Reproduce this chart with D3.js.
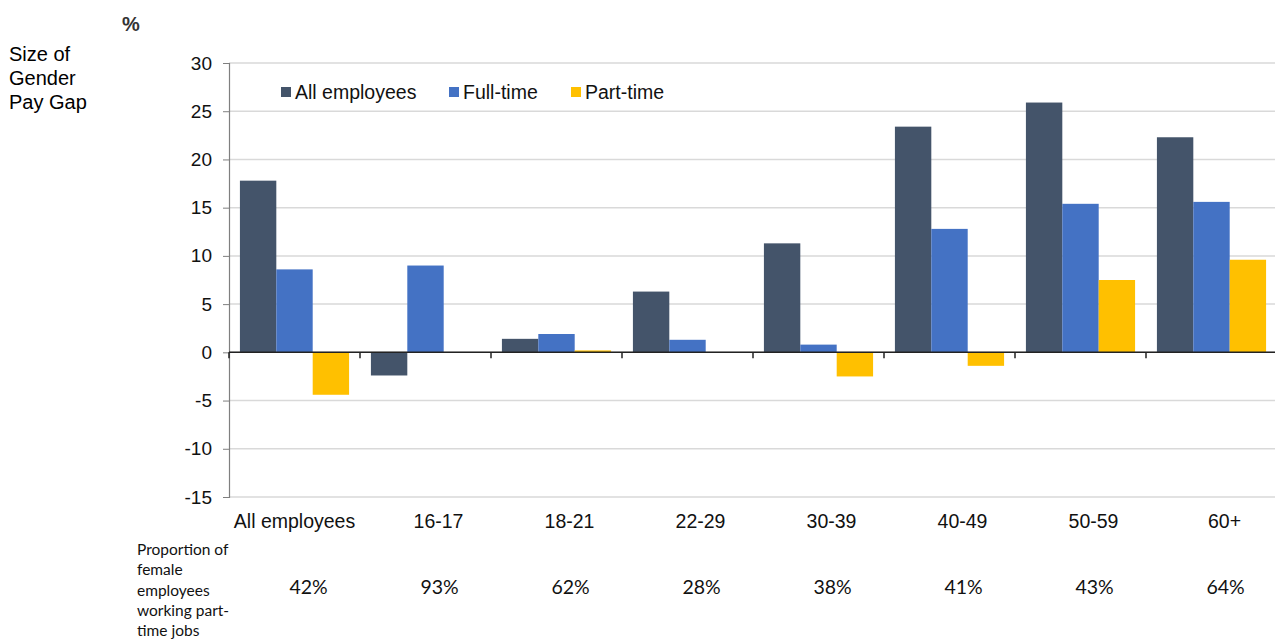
<!DOCTYPE html>
<html>
<head>
<meta charset="utf-8">
<script src="https://cdn.jsdelivr.net/npm/d3@7"></script>
<style>
  body { margin: 0; background: #fff; }
  text { font-family: "Liberation Sans", Arial, sans-serif; fill: #000; }
  .calib { font-family: Lato, "Open Sans", sans-serif; fill: #111; }
</style>
</head>
<body>
<svg id="chart" width="1275" height="642"></svg>
<script>
// categories and values
var categories = [ "All employees", "16-17", "18-21", "22-29", "30-39", "40-49", "50-59", "60+" ];
var seriesNames = [ "All employees", "Full-time", "Part-time" ];
var allEmployees = [ 17.8, -2.4, 1.4, 6.3, 11.3, 23.4, 25.9, 22.3 ];
var fullTime = [ 8.6, 9.0, 1.9, 1.3, 0.8, 12.8, 15.4, 15.6 ];
var partTime = [ -4.4, null, 0.2, null, -2.5, -1.4, 7.5, 9.6 ];
var partTimeShare = [ "42%", "93%", "62%", "28%", "38%", "41%", "43%", "64%" ];
var yTicks = [ 30, 25, 20, 15, 10, 5, 0, -5, -10, -15 ];
var colors = [ "#44546A", "#4472C4", "#FFC000" ];

var series = [ allEmployees, fullTime, partTime ];

var svg = d3.select( "#chart" );
var plotLeft = 229, plotRight = 1277, plotTop = 63, plotBottom = 497;

var x = d3.scaleBand()
	.domain( categories )
	.range( [ plotLeft, plotRight ] )
	.padding( 0 );

var xInner = d3.scaleBand()
	.domain( seriesNames )
	.range( [ 0, x.bandwidth() ] )
	.paddingOuter( 0.3 )
	.paddingInner( 0 );

var y = d3.scaleLinear()
	.domain( [ -15, 30 ] )
	.range( [ plotBottom, plotTop ] );

// gridlines
svg.append( "g" )
	.selectAll( "line" )
	.data( yTicks )
	.enter()
	.append( "line" )
		.attr( "x1", plotLeft )
		.attr( "x2", plotRight )
		.attr( "y1", function( d ) { return y( d ); } )
		.attr( "y2", function( d ) { return y( d ); } )
		.style( "stroke", "#d9d9d9" )
		.style( "stroke-width", 1.5 );

// y axis (plain hyphen for negatives, as in the original)
var yAxis = d3.axisLeft( y )
	.tickValues( yTicks )
	.tickFormat( function( d ) { return String( d ); } )
	.tickSize( 6 )
	.tickPadding( 11 );

var gy = svg.append( "g" )
	.attr( "transform", "translate(" + plotLeft + ",0)" )
	.call( yAxis );
gy.select( ".domain" ).style( "stroke", "#7f7f7f" ).style( "stroke-width", 1.2 );
gy.selectAll( ".tick line" ).style( "stroke", "#7f7f7f" );
gy.selectAll( "text" )
	.style( "font-family", "Liberation Sans, Arial, sans-serif" )
	.style( "font-size", "19px" )
	.style( "fill", "#111" );

// bars
series.forEach( function( vals, s ) {
	svg.append( "g" )
		.selectAll( "rect" )
		.data( vals.map( function( v, i ) { return { cat: categories[ i ], v: v }; } )
			.filter( function( d ) { return d.v !== null; } ) )
		.enter()
		.append( "rect" )
			.attr( "x", function( d ) { return x( d.cat ) + xInner( seriesNames[ s ] ); } )
			.attr( "y", function( d ) { return y( Math.max( 0, d.v ) ); } )
			.attr( "width", xInner.bandwidth() )
			.attr( "height", function( d ) { return Math.abs( y( d.v ) - y( 0 ) ); } )
			.style( "fill", colors[ s ] );
} );

// zero axis with category ticks
var gx = svg.append( "g" )
	.attr( "transform", "translate(0," + y( 0 ) + ")" );
gx.append( "line" )
	.attr( "x1", plotLeft )
	.attr( "x2", plotRight )
	.style( "stroke", "#222" )
	.style( "stroke-width", 1.5 );
gx.selectAll( ".ctick" )
	.data( categories.concat( [ null ] ) )
	.enter()
	.append( "line" )
		.attr( "class", "ctick" )
		.attr( "x1", function( d, i ) { return plotLeft + i * x.bandwidth(); } )
		.attr( "x2", function( d, i ) { return plotLeft + i * x.bandwidth(); } )
		.attr( "y1", 0 )
		.attr( "y2", 6 )
		.style( "stroke", "#222" )
		.style( "stroke-width", 1.5 );

// category labels
svg.append( "g" )
	.selectAll( "text" )
	.data( categories )
	.enter()
	.append( "text" )
		.attr( "x", function( d, i ) { return x( d ) + x.bandwidth() / 2 + ( i === 0 ? 0 : 13 ); } )
		.attr( "y", 528 )
		.attr( "text-anchor", "middle" )
		.style( "font-size", "19.5px" )
		.style( "fill", "#111" )
		.text( function( d ) { return d; } );

// proportion row
svg.append( "g" )
	.selectAll( "text" )
	.data( partTimeShare )
	.enter()
	.append( "text" )
		.attr( "class", "calib" )
		.attr( "x", function( d, i ) { return x( categories[ i ] ) + x.bandwidth() / 2 + 14; } )
		.attr( "y", 594 )
		.attr( "text-anchor", "middle" )
		.style( "font-size", "19.5px" )
		.text( function( d ) { return d; } );

var propLines = [ "Proportion of", "female", "employees", "working part-", "time jobs" ];
svg.append( "g" )
	.selectAll( "text" )
	.data( propLines )
	.enter()
	.append( "text" )
		.attr( "class", "calib" )
		.attr( "x", 137 )
		.attr( "y", function( d, i ) { return 555 + i * 20.3; } )
		.style( "font-size", "15.5px" )
		.text( function( d ) { return d; } );

// axis title
var titleLines = [ "Size of", "Gender", "Pay Gap" ];
svg.append( "g" )
	.selectAll( "text" )
	.data( titleLines )
	.enter()
	.append( "text" )
		.attr( "x", 9 )
		.attr( "y", function( d, i ) { return 61 + i * 24; } )
		.style( "font-size", "20px" )
		.text( function( d ) { return d; } );

svg.append( "text" )
	.attr( "x", 122 )
	.attr( "y", 31 )
	.style( "font-size", "20px" )
	.style( "font-weight", "bold" )
	.style( "fill", "#333" )
	.text( "%" );

// legend
var legendX = [ 281, 449, 571 ];
var legend = svg.append( "g" ).attr( "class", "legenda" );
seriesNames.forEach( function( name, i ) {
	legend.append( "rect" )
		.attr( "x", legendX[ i ] )
		.attr( "y", 87 )
		.attr( "width", 10 )
		.attr( "height", 10 )
		.style( "fill", colors[ i ] );
	legend.append( "text" )
		.attr( "x", legendX[ i ] + 14 )
		.attr( "y", 99 )
		.style( "font-size", "19.5px" )
		.style( "fill", "#111" )
		.text( name );
} );
</script>
</body>
</html>
